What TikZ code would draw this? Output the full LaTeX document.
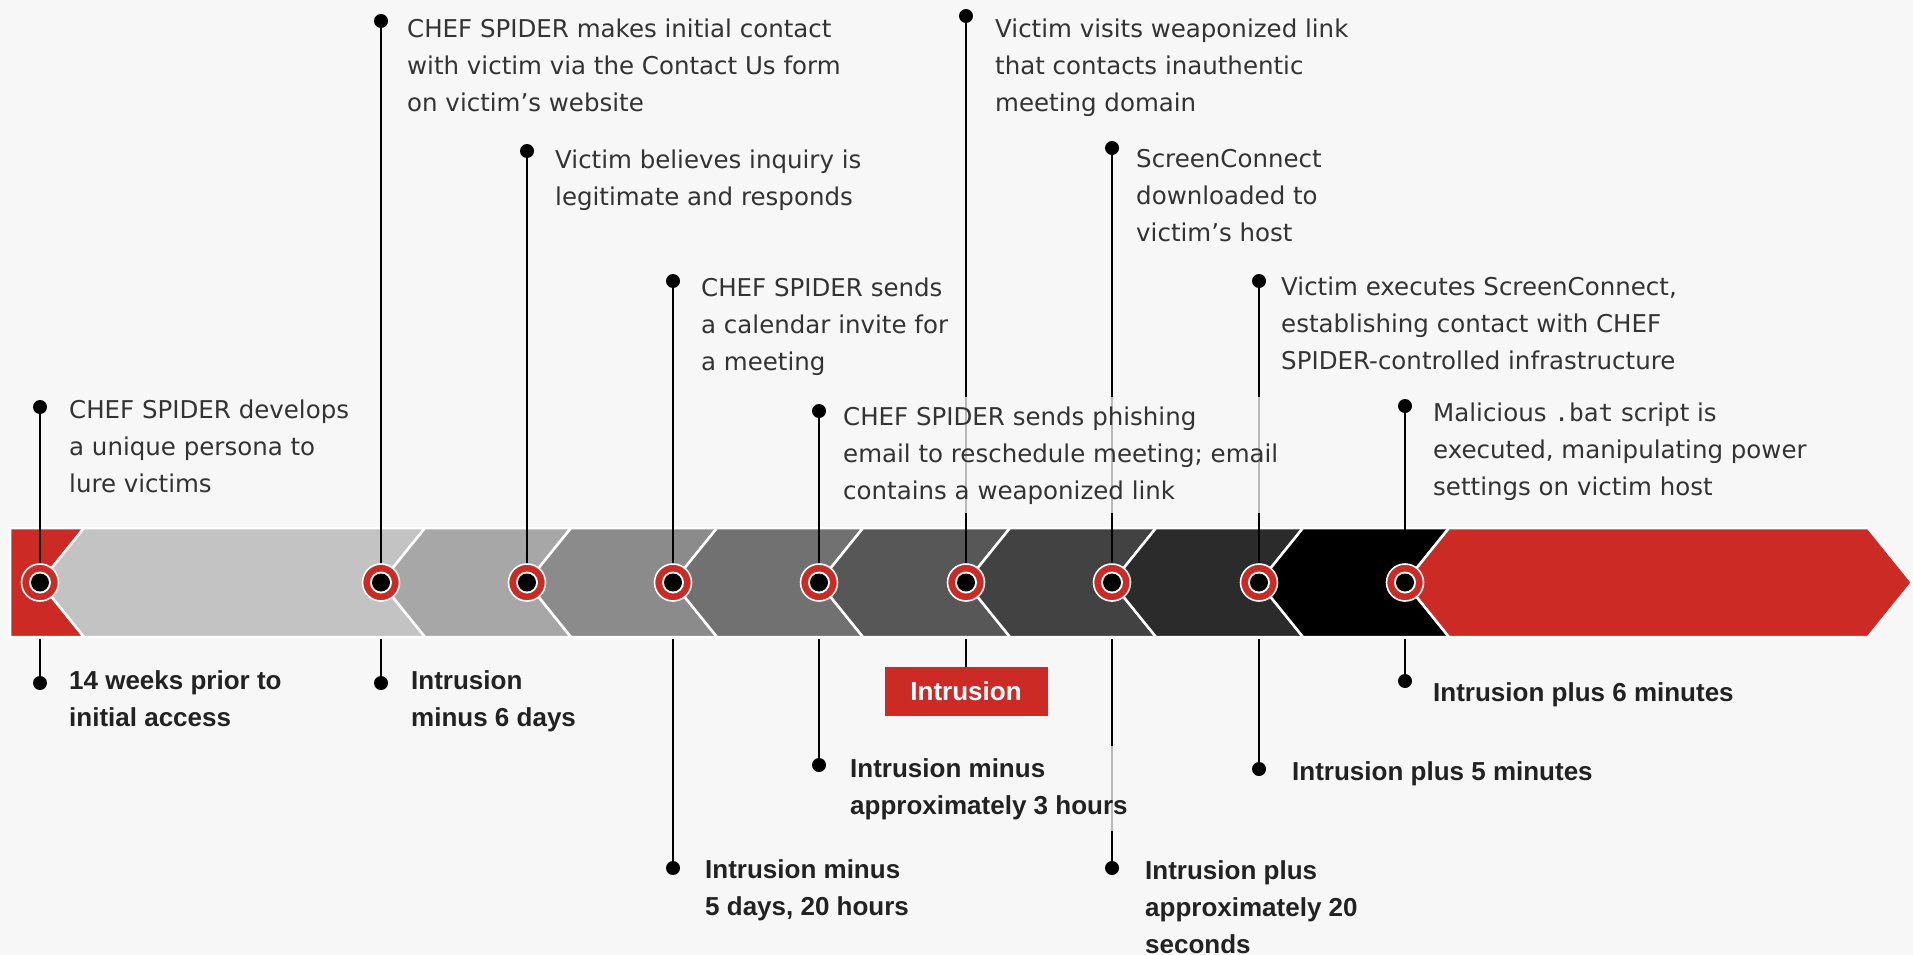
\documentclass[tikz,border=0pt]{standalone}
\usepackage{fontspec}
\setmainfont{DejaVu Sans}
\setmonofont{DejaVu Sans Mono}
\newfontfamily\lbfont{Liberation Sans}
\definecolor{bg}{HTML}{F7F7F7}
\definecolor{cred}{HTML}{CC2B25}
\definecolor{txt}{HTML}{333333}
\definecolor{lbl}{HTML}{222222}
\definecolor{g1}{HTML}{C3C3C3}
\definecolor{g2}{HTML}{A7A7A7}
\definecolor{g3}{HTML}{8B8B8B}
\definecolor{g4}{HTML}{717171}
\definecolor{g5}{HTML}{575757}
\definecolor{g6}{HTML}{424242}
\definecolor{g7}{HTML}{2B2B2B}
\definecolor{g8}{HTML}{000000}
\begin{document}
\begin{tikzpicture}[x=1pt,y=-1pt,
  stem/.style={line width=2.8pt, draw=black},
  dotn/.style={circle, fill=black, inner sep=0pt, minimum size=14pt},
  seg/.style={draw=white, line width=2.5pt, line join=miter},
  ring/.style={circle, fill=cred, draw=white, line width=1.6pt, minimum size=37pt, inner sep=0pt},
  evt/.style={anchor=base west, align=left, inner xsep=3pt, inner ysep=9pt, fill=bg, fill opacity=0.75, text opacity=1, text=txt, font=\fontsize{24.5}{37}\selectfont},
  when/.style={anchor=base west, align=left, inner xsep=3pt, inner ysep=12pt, fill=bg, fill opacity=0.75, text opacity=1, text=lbl, font=\lbfont\bfseries\fontsize{26}{37}\selectfont},
]
\def\T{528}\def\B{637}\def\M{582.5}\def\o{44}
\fill[bg] (0,0) rectangle (1913,955);
\useasboundingbox (0,0) rectangle (1913,955);

% bar segments
\filldraw[seg, fill=cred] (10,\T) -- (40+\o,\T) -- (40,\M) -- (40+\o,\B) -- (10,\B) -- cycle;
\foreach \a/\b/\col in {40/381/g1, 381/527/g2, 527/673/g3, 673/819/g4, 819/966/g5, 966/1112/g6, 1112/1259/g7, 1259/1405/g8}{
  \filldraw[seg, fill=\col] (\a+\o,\T) -- (\b+\o,\T) -- (\b,\M) -- (\b+\o,\B) -- (\a+\o,\B) -- (\a,\M) -- cycle;
}
\filldraw[seg, fill=cred] (1405+\o,\T) -- (1868,\T) -- (1912,\M) -- (1868,\B) -- (1405+\o,\B) -- (1405,\M) -- cycle;

% circle centres and bar-bottom points
\foreach \i/\x in {1/40, 2/381, 3/527, 4/673, 5/819, 6/966, 7/1112, 8/1259, 9/1405}{
  \coordinate (c\i) at (\x,\M);
  \coordinate (b\i) at (\x,639);
}

% upper dots
\node[dotn] (u1) at (40,407) {};
\node[dotn] (u2) at (381,21) {};
\node[dotn] (u3) at (527,151) {};
\node[dotn] (u4) at (673,281) {};
\node[dotn] (u5) at (819,411) {};
\node[dotn] (u6) at (966,16) {};
\node[dotn] (u7) at (1112,148) {};
\node[dotn] (u8) at (1259,281) {};
\node[dotn] (u9) at (1405,406) {};

% lower dots
\node[dotn] (l1) at (40,683) {};
\node[dotn] (l2) at (381,683) {};
\node[dotn] (l4) at (673,868) {};
\node[dotn] (l5) at (819,765) {};
\node[dotn] (l7) at (1112,868) {};
\node[dotn] (l8) at (1259,769) {};
\node[dotn] (l9) at (1405,681) {};

% intrusion box
\node[fill=cred, minimum width=163pt, minimum height=49pt, inner sep=0pt, text=white, font=\lbfont\bfseries\fontsize{26}{30}\selectfont] (ibox) at (966,691.5) {Intrusion};

% stems
\foreach \i in {1,...,9}{ \draw[stem] (u\i.center) -- (c\i); }
\foreach \i in {1,2,4,5,7,8,9}{ \draw[stem] (b\i) -- (l\i.center); }
\draw[stem] (b6) -- (ibox.north);

% rings
\foreach \i in {1,...,9}{
  \node[ring] (k\i) at (c\i) {};
  \fill[white] (k\i.center) circle (11pt);
  \fill[black] (k\i.center) circle (9pt);
}

% event texts (anchor = baseline of last line)
\node[evt] (t1) at (66,492) {CHEF SPIDER develops\\a unique persona to\\lure victims};
\node[evt] (t2) at (404,112) {CHEF SPIDER makes initial contact\\with victim via the Contact Us form\\on victim’s website};
\node[evt] (t3) at (552,205) {Victim believes inquiry is\\legitimate and responds};
\node[evt] (t4) at (698,370) {CHEF SPIDER sends\\a calendar invite for\\a meeting};
\node[evt] (t5) at (840,499) {CHEF SPIDER sends phishing\\email to reschedule meeting; email\\contains a weaponized link};
\node[evt] (t6) at (992,112) {Victim visits weaponized link\\that contacts inauthentic\\meeting domain};
\node[evt] (t7) at (1133,241) {ScreenConnect\\downloaded to\\victim’s host};
\node[evt] (t8) at (1278,369) {Victim executes ScreenConnect,\\establishing contact with CHEF\\SPIDER-controlled infrastructure};
\node[evt] (t9) at (1430,495) {Malicious \texttt{.bat} script is\\executed, manipulating power\\settings on victim host};

% time labels
\node[when] (w1) at (66,726) {14 weeks prior to\\initial access};
\node[when] (w2) at (408,726) {Intrusion\\minus 6 days};
\node[when] (w4) at (702,915) {Intrusion minus\\5 days, 20 hours};
\node[when] (w5) at (847,814) {Intrusion minus\\approximately 3 hours};
\node[when] (w7) at (1142,953) {Intrusion plus\\approximately 20\\seconds};
\node[when] (w8) at (1289,780) {Intrusion plus 5 minutes};
\node[when] (w9) at (1430,701) {Intrusion plus 6 minutes};
\end{tikzpicture}
\end{document}
